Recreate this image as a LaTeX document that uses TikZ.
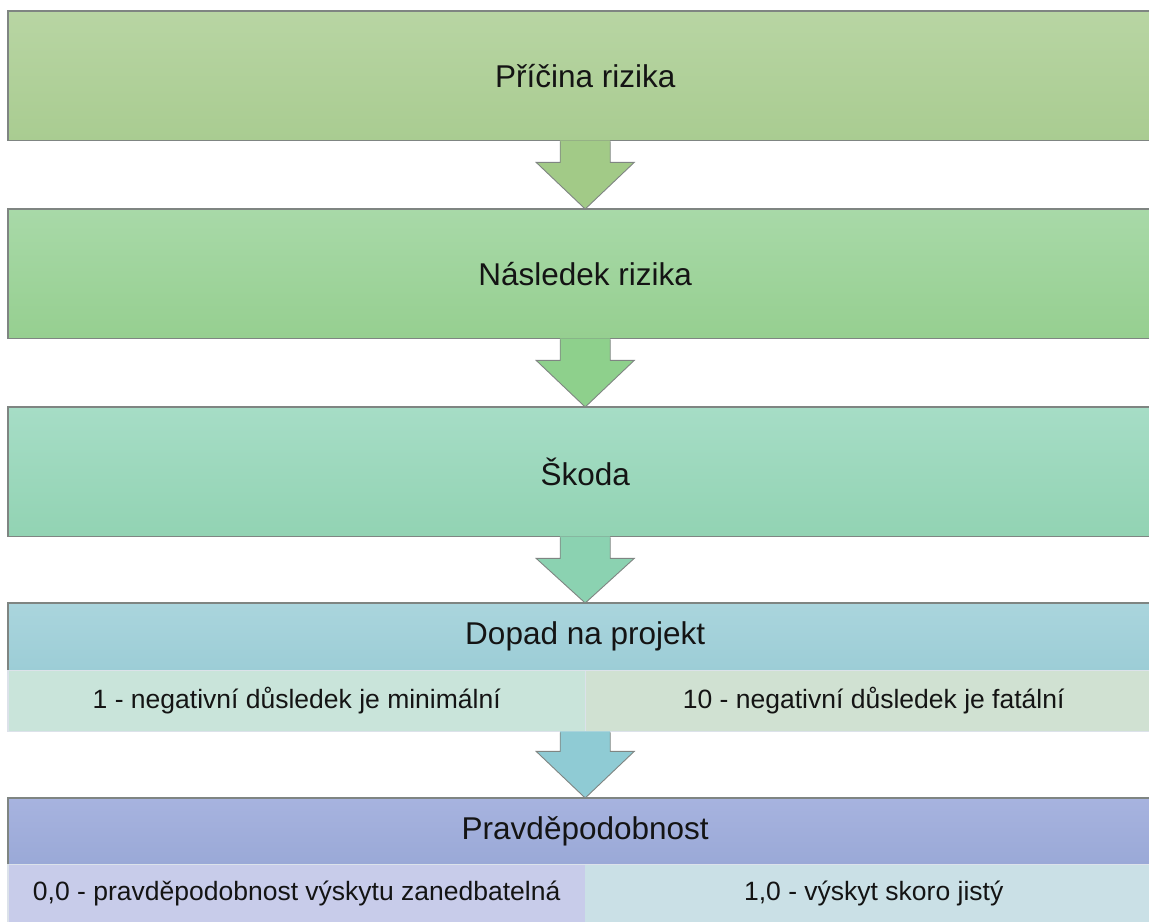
\documentclass[tikz,border=0pt]{standalone}
\usepackage{fontspec}
\setmainfont{Liberation Sans}
\usetikzlibrary{calc}
\definecolor{bAt}{HTML}{B8D5A3}\definecolor{bAb}{HTML}{A9CC91}
\definecolor{bBt}{HTML}{A8D9A8}\definecolor{bBb}{HTML}{96CF90}
\definecolor{bCt}{HTML}{A6DDC6}\definecolor{bCb}{HTML}{92D3B3}
\definecolor{bDt}{HTML}{AAD5DD}\definecolor{bDb}{HTML}{9CCDD6}
\definecolor{sDl}{HTML}{C9E4DA}\definecolor{sDr}{HTML}{D0E1D2}
\definecolor{bEt}{HTML}{A7B3DF}\definecolor{bEb}{HTML}{9AA9D7}
\definecolor{sEl}{HTML}{C8CCEA}\definecolor{sEr}{HTML}{CAE0E6}
\definecolor{aA}{HTML}{A2CA87}\definecolor{aB}{HTML}{8ED08C}
\definecolor{aC}{HTML}{8BD2B1}\definecolor{aD}{HTML}{8FCBD4}
\definecolor{edge}{HTML}{7F8582}\definecolor{faint}{HTML}{DCE2EA}
\definecolor{txt}{HTML}{141414}
\tikzset{
  bigbox/.style={anchor=north west, inner sep=0pt, minimum width=1154pt, text=txt,
    font=\fontsize{31.5}{36}\selectfont},
  tallbox/.style={bigbox, minimum height=129pt},
  headbox/.style={bigbox, minimum height=67pt},
  subcell/.style={anchor=north west, inner sep=0pt, minimum width=577pt, text=txt,
    font=\fontsize{26.5}{30}\selectfont},
  topline/.style={draw=edge, line width=1.3pt},
  faintline/.style={draw=faint, line width=1.3pt},
  arrowline/.style={draw=edge, line width=0.9pt, line join=miter},
}
\newcommand{\blockarrow}[4]{% source point, target point, fill colour, shaft length
  \fill[#3] ($(#1)+(-25,0)$) -- ($(#1)+(-25,#4)$) -- ($(#1)+(-49,#4)$) -- (#2)
     -- ($(#1)+(49,#4)$) -- ($(#1)+(25,#4)$) -- ($(#1)+(25,0)$) -- cycle;
  \draw[arrowline] ($(#1)+(-25,1)$) -- ($(#1)+(-25,#4)$) -- ($(#1)+(-49,#4)$) -- (#2)
     -- ($(#1)+(49,#4)$) -- ($(#1)+(25,#4)$) -- ($(#1)+(25,1)$);
}
\begin{document}
\begin{tikzpicture}[x=1pt,y=-1pt]
\useasboundingbox (0,0) rectangle (1149,922);
\clip (0,0) rectangle (1149,922);
\fill[white] (0,0) rectangle (1149,922);

% boxes
\node[tallbox, top color=bAt, bottom color=bAb] (b1) at (8,11) {Příčina rizika};
\node[tallbox, top color=bBt, bottom color=bBb] (b2) at (8,209) {Následek rizika};
\node[tallbox, top color=bCt, bottom color=bCb] (b3) at (8,407) {Škoda};

\node[headbox, top color=bDt, bottom color=bDb] (h4) at (8,603) {Dopad na projekt};
\node[subcell, fill=sDl, minimum height=61pt] (s4a) at (8,670) {1 - negativní důsledek je minimální};
\node[subcell, fill=sDr, minimum height=61pt] (s4b) at (585,670) {10 - negativní důsledek je fatální};

\node[headbox, minimum height=66pt, top color=bEt, bottom color=bEb] (h5) at (8,798) {Pravděpodobnost};
\node[subcell, fill=sEl, minimum height=58pt] (s5a) at (8,864) {0,0 - pravděpodobnost výskytu zanedbatelná};
\node[subcell, fill=sEr, minimum height=58pt] (s5b) at (585,864) {1,0 - výskyt skoro jistý};

% box outlines
\foreach \b in {b1,b2,b3}{
  \draw[topline] (\b.north east) -- (\b.north west) -- (\b.south west) -- (\b.south east);
}
\draw[topline] (h4.north east) -- (h4.north west) -- (h4.south west);
\draw[faintline] (h4.south west) -- (h4.south east);
\draw[faintline] (s4a.north west) -- (s4a.south west) -- (s4b.south east);
\draw[faintline, line width=0.8pt] (s4a.north east) -- (s4a.south east);
\draw[topline] (h5.north east) -- (h5.north west) -- (h5.south west);
\draw[faintline] (h5.south west) -- (h5.south east);
\draw[faintline] (s5a.north west) -- (s5a.south west);

% block arrows
\coordinate (a4src) at (h4.south |- s4a.south);
\blockarrow{b1.south}{b2.north}{aA}{22}
\blockarrow{b2.south}{b3.north}{aB}{22}
\blockarrow{b3.south}{h4.north}{aC}{22}
\blockarrow{a4src}{h5.north}{aD}{20}
\end{tikzpicture}
\end{document}
